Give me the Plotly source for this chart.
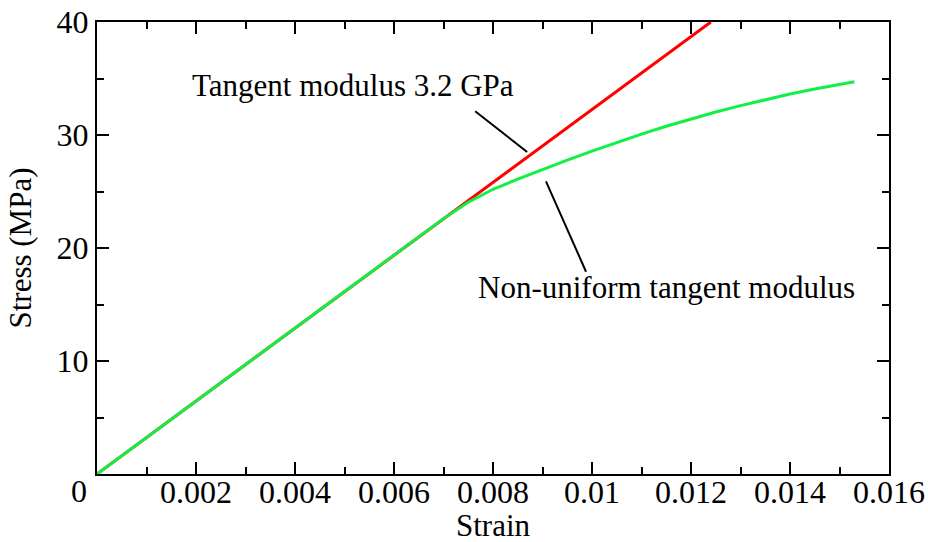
import plotly.graph_objects as go

# Data
red_strain = [0.0, 0.0124]
red_stress = [0.0, 40.0]

green_strain = [0.0, 0.007, 0.0075, 0.008, 0.0085, 0.009, 0.0095, 0.010, 0.0105,
                0.011, 0.0115, 0.012, 0.0125, 0.013, 0.0135, 0.014, 0.0145,
                0.015, 0.0153]
green_stress = [0.0, 22.6, 24.05, 25.2, 26.1, 26.95, 27.78, 28.58, 29.35,
                30.08, 30.77, 31.42, 32.03, 32.6, 33.13, 33.62, 34.07,
                34.48, 34.71]

x_tickvals = [0.002, 0.004, 0.006, 0.008, 0.010, 0.012, 0.014, 0.016]
x_ticktext = ["0.002", "0.004", "0.006", "0.008", "0.01", "0.012", "0.014", "0.016"]
y_tickvals = [10, 20, 30, 40]
y_ticktext = ["10", "20", "30", "40"]

x_title = "Strain"
y_title = "Stress (MPa)"
label1 = "Tangent modulus 3.2 GPa"
label2 = "Non-uniform tangent modulus"
pointer1 = ([0.00764, 0.00869], [32.1, 28.5])
pointer2 = ([0.00907, 0.00988], [25.9, 17.9])

FONT = "Liberation Serif"
GREEN = "#11f044"

fig = go.Figure()
fig.add_trace(go.Scatter(x=red_strain, y=red_stress, mode="lines",
                         line=dict(color="#ff0000", width=3), showlegend=False))
fig.add_trace(go.Scatter(x=green_strain, y=green_stress, mode="lines",
                         line=dict(color=GREEN, width=3), showlegend=False))
fig.add_trace(go.Scatter(x=pointer1[0], y=pointer1[1], mode="lines",
                         line=dict(color="black", width=2), showlegend=False))
fig.add_trace(go.Scatter(x=pointer2[0], y=pointer2[1], mode="lines",
                         line=dict(color="black", width=2), showlegend=False))

axis_common = dict(
    showline=True, linecolor="black", linewidth=2, mirror="ticks",
    ticks="inside", ticklen=12, tickwidth=2, tickcolor="black",
    showgrid=False, zeroline=False, automargin=False,
    tickfont=dict(family=FONT, size=32, color="black"),
)

fig.update_xaxes(range=[0, 0.016], tickvals=x_tickvals, ticktext=x_ticktext,
                 ticklabelstandoff=-11,
                 minor=dict(dtick=0.001, ticks="inside", ticklen=7, tickwidth=2,
                            tickcolor="black", showgrid=False),
                 **axis_common)
fig.update_yaxes(range=[0, 40], tickvals=y_tickvals, ticktext=y_ticktext,
                 minor=dict(dtick=5, ticks="inside", ticklen=7, tickwidth=2,
                            tickcolor="black", showgrid=False),
                 title=dict(text=y_title, font=dict(family=FONT, size=31, color="black"),
                            standoff=16),
                 **axis_common)

fig.add_annotation(text=x_title, x=0.5, y=-0.1150, xref="paper", yref="paper",
                   xanchor="center", yanchor="middle", showarrow=False,
                   font=dict(family=FONT, size=31, color="black"))
fig.add_annotation(text=label1, x=0.00188, y=34.4, xref="x", yref="y",
                   xanchor="left", yanchor="middle", showarrow=False,
                   font=dict(family=FONT, size=31, color="black"))
fig.add_annotation(text=label2, x=0.00766, y=16.5, xref="x", yref="y",
                   xanchor="left", yanchor="middle", showarrow=False,
                   font=dict(family=FONT, size=31, color="black"))
fig.add_annotation(text="0", x=-0.0227, y=-0.0376, xref="paper", yref="paper",
                   xanchor="center", yanchor="middle", showarrow=False,
                   font=dict(family=FONT, size=32, color="black"))

fig.update_layout(width=928, height=542,
                  margin=dict(l=97, r=39, t=22, b=68),
                  font=dict(family=FONT, size=30, color="black"),
                  paper_bgcolor="white", plot_bgcolor="white")

fig.write_html("out.html")
